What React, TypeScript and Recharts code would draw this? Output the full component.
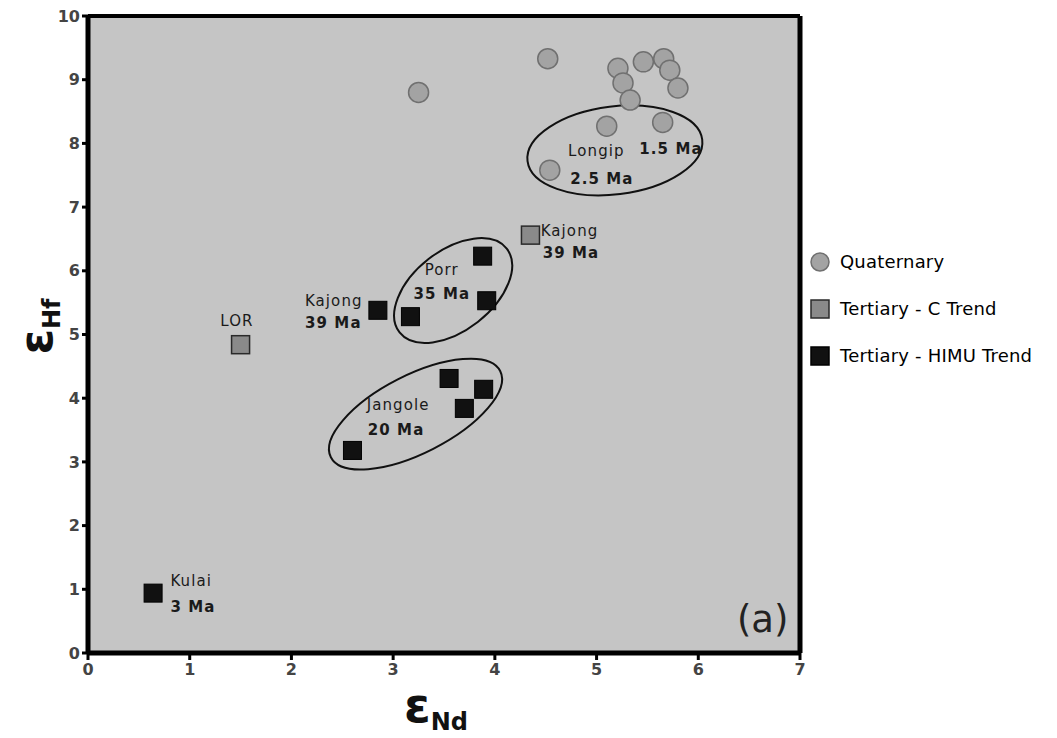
import React from 'react';
import {
  ScatterChart, Scatter, XAxis, YAxis, ReferenceArea, ReferenceLine, Legend,
} from 'recharts';

// ---- data ----
const quaternary = [
  { x: 3.25, y: 8.8 },
  { x: 4.52, y: 9.33 },
  { x: 5.21, y: 9.18 },
  { x: 5.26, y: 8.95 },
  { x: 5.46, y: 9.28 },
  { x: 5.66, y: 9.33 },
  { x: 5.72, y: 9.15 },
  { x: 5.8, y: 8.87 },
  { x: 5.33, y: 8.68 },
  { x: 5.1, y: 8.27 },
  { x: 5.65, y: 8.33 },
  { x: 4.54, y: 7.58 },
];

const tertiaryC = [
  { x: 1.5, y: 4.84 },
  { x: 4.35, y: 6.56 },
];

const tertiaryHimu = [
  { x: 0.64, y: 0.94 },
  { x: 2.85, y: 5.38 },
  { x: 3.17, y: 5.28 },
  { x: 3.88, y: 6.23 },
  { x: 3.92, y: 5.53 },
  { x: 3.55, y: 4.31 },
  { x: 3.89, y: 4.14 },
  { x: 3.7, y: 3.84 },
  { x: 2.6, y: 3.18 },
];

const xTicks = [0, 1, 2, 3, 4, 5, 6, 7];
const yTicks = [0, 1, 2, 3, 4, 5, 6, 7, 8, 9, 10];

// group ellipses (centres in data units)
const groupCentres = [
  { x: 5.18, y: 7.89, name: 'Longip' },
  { x: 3.59, y: 5.69, name: 'Porr' },
  { x: 3.22, y: 3.75, name: 'Jangole' },
];
const ellipseShapes: Record<string, { rx: number; ry: number; rot: number }> = {
  Longip: { rx: 88, ry: 44, rot: -7 },
  Porr: { rx: 68, ry: 40, rot: -38 },
  Jangole: { rx: 95, ry: 39, rot: -27 },
};

// annotation texts (anchor in data units)
const annotations = [
  { x: 4.72, y: 7.8, text: 'Longip', bold: false, end: false },
  { x: 5.42, y: 7.84, text: '1.5 Ma', bold: true, end: false },
  { x: 4.74, y: 7.37, text: '2.5 Ma', bold: true, end: false },
  { x: 4.45, y: 6.54, text: 'Kajong', bold: false, end: false },
  { x: 4.47, y: 6.2, text: '39 Ma', bold: true, end: false },
  { x: 3.31, y: 5.93, text: 'Porr', bold: false, end: false },
  { x: 3.2, y: 5.56, text: '35 Ma', bold: true, end: false },
  { x: 2.7, y: 5.44, text: 'Kajong', bold: false, end: true },
  { x: 2.69, y: 5.1, text: '39 Ma', bold: true, end: true },
  { x: 1.3, y: 5.13, text: 'LOR', bold: false, end: false },
  { x: 2.74, y: 3.81, text: 'Jangole', bold: false, end: false },
  { x: 2.75, y: 3.43, text: '20 Ma', bold: true, end: false },
  { x: 0.81, y: 1.05, text: 'Kulai', bold: false, end: false },
  { x: 0.81, y: 0.64, text: '3 Ma', bold: true, end: false },
];
const panelTag = [{ x: 6.38, y: 0.33, text: '(a)' }];

const legendItems = [
  { name: 'Quaternary', kind: 'circle' },
  { name: 'Tertiary - C Trend', kind: 'grey' },
  { name: 'Tertiary - HIMU Trend', kind: 'black' },
];

const FONT = '"DejaVu Sans", Verdana, sans-serif';

const CircleShape = (p: any) => (
  <circle cx={p.cx} cy={p.cy} r={10} fill="#a3a3a3" stroke="#707070" strokeWidth={1.5} />
);
const GreySquare = (p: any) => (
  <rect x={p.cx - 9} y={p.cy - 9} width={18} height={18} fill="#8a8a8a" stroke="#2a2a2a" strokeWidth={1.5} />
);
const BlackSquare = (p: any) => (
  <rect x={p.cx - 9} y={p.cy - 9} width={18} height={18} fill="#111" stroke="#000" strokeWidth={1} />
);
const EllipseShape = (p: any) => {
  const s = ellipseShapes[p.payload.name];
  return (
    <ellipse
      cx={p.cx}
      cy={p.cy}
      rx={s.rx}
      ry={s.ry}
      transform={`rotate(${s.rot} ${p.cx} ${p.cy})`}
      fill="none"
      stroke="#111"
      strokeWidth={2}
    />
  );
};
const TextShape = (p: any) => (
  <text
    x={p.cx}
    y={p.cy}
    textAnchor={p.payload.end ? 'end' : 'start'}
    fontFamily={FONT}
    fontSize={15}
    letterSpacing={1.1}
    fontWeight={p.payload.bold ? 'bold' : 'normal'}
    fill="#1a1a1a"
  >
    {p.payload.text}
  </text>
);
const TagShape = (p: any) => (
  <text x={p.cx} y={p.cy} fontFamily={FONT} fontSize={37} fill="#222">
    {p.payload.text}
  </text>
);

const LegendContent = () => (
  <div style={{ fontFamily: FONT, fontSize: 18, letterSpacing: 0.2, color: '#000', paddingLeft: 10, whiteSpace: 'nowrap' }}>
    {legendItems.map((it) => (
      <div key={it.name} style={{ display: 'flex', alignItems: 'center', height: 47 }}>
        <svg width={20} height={20} style={{ marginRight: 10, flexShrink: 0 }}>
          {it.kind === 'circle' ? (
            <circle cx={10} cy={10} r={9} fill="#a3a3a3" stroke="#707070" strokeWidth={1.5} />
          ) : (
            <rect x={1} y={1} width={18} height={18} fill={it.kind === 'grey' ? '#8a8a8a' : '#111'} stroke={it.kind === 'grey' ? '#2a2a2a' : '#000'} strokeWidth={1.5} />
          )}
        </svg>
        <span>{it.name}</span>
      </div>
    ))}
  </div>
);

const XLabel = (props: any) => {
  const vb = props.viewBox;
  const cx = vb.x + vb.width / 2 - 8;
  return (
    <text x={cx} y={vb.y + 69} textAnchor="middle" fontFamily={FONT} fontWeight="bold" fill="#111">
      <tspan fontSize={48}>ε</tspan>
      <tspan fontSize={24} dy={8}>Nd</tspan>
    </text>
  );
};
const YLabel = (props: any) => {
  const vb = props.viewBox;
  const x = 44;
  const y = vb.y + vb.height / 2 - 8;
  return (
    <text x={x} y={y} transform={`rotate(-90 ${x} ${y})`} textAnchor="middle" fontFamily={FONT} fontWeight="bold" fill="#111">
      <tspan fontSize={46}>ε</tspan>
      <tspan fontSize={24} dy={8}>Hf</tspan>
    </text>
  );
};

const tickStyle = { fontFamily: FONT, fontSize: 16, fill: '#444', fontWeight: 'bold' as const };

export default function App() {
  return (
    <ScatterChart width={1041} height={730} margin={{ top: 8, right: 10, bottom: 0, left: 0 }}>
      <XAxis
        type="number"
        dataKey="x"
        domain={[0, 7]}
        ticks={xTicks}
        interval={0}
        height={85}
        tick={tickStyle}
        tickSize={7}
        tickMargin={4}
        axisLine={{ stroke: '#000', strokeWidth: 5 }}
        tickLine={{ stroke: '#000', strokeWidth: 3 }}
        label={<XLabel />}
        allowDataOverflow
      />
      <YAxis
        type="number"
        dataKey="y"
        domain={[0, 10]}
        ticks={yTicks}
        interval={0}
        width={80}
        tick={tickStyle}
        tickSize={6}
        tickMargin={2}
        axisLine={{ stroke: '#000', strokeWidth: 5 }}
        tickLine={{ stroke: '#000', strokeWidth: 3 }}
        label={<YLabel />}
        allowDataOverflow
      />
      <ReferenceArea x1={0} x2={7} y1={0} y2={10} fill="#c5c5c5" fillOpacity={1} stroke="none" />
      <ReferenceLine y={10} stroke="#000" strokeWidth={4} />
      <ReferenceLine x={7} stroke="#000" strokeWidth={5} />
      <Legend
        layout="vertical"
        align="right"
        verticalAlign="middle"
        width={239}
        wrapperStyle={{ top: 230 }}
        content={<LegendContent />}
      />
      <Scatter name="groups" data={groupCentres} shape={EllipseShape} isAnimationActive={false} legendType="none" />
      <Scatter name="Quaternary" data={quaternary} shape={CircleShape} isAnimationActive={false} />
      <Scatter name="Tertiary - C Trend" data={tertiaryC} shape={GreySquare} isAnimationActive={false} />
      <Scatter name="Tertiary - HIMU Trend" data={tertiaryHimu} shape={BlackSquare} isAnimationActive={false} />
      <Scatter name="labels" data={annotations} shape={TextShape} isAnimationActive={false} legendType="none" />
      <Scatter name="tag" data={panelTag} shape={TagShape} isAnimationActive={false} legendType="none" />
    </ScatterChart>
  );
}
